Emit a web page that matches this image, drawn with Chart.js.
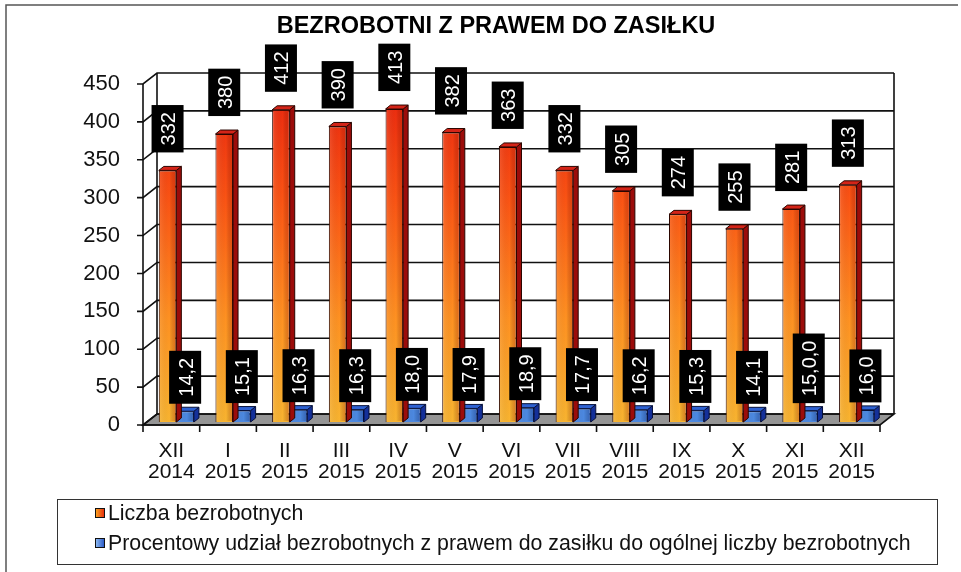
<!DOCTYPE html>
<html>
<head>
<meta charset="utf-8">
<script src="https://cdn.jsdelivr.net/npm/chart.js@4.4.0/dist/chart.umd.min.js"></script>
<style>
  body { margin: 0; background: #fff; font-family: "Liberation Sans", Arial, sans-serif; }
  #wrap { position: relative; width: 961px; height: 572px; }
  #legend { position: absolute; left: 57px; top: 499px; width: 879px; height: 64px; border: 1.5px solid #333; }
  .row { position: absolute; left: 37px; height: 24px; display: flex; align-items: center; font-size: 21.3px; color: #111; white-space: nowrap; }
  .mark { width: 8px; height: 8px; border: 1.5px solid #111; margin-right: 3px; }
</style>
</head>
<body>
<div id="wrap">
  <canvas id="chart" width="961" height="572"></canvas>
  <div id="legend"></div>
</div>
<script>
const months = [['XII', '2014'], ['I', '2015'], ['II', '2015'], ['III', '2015'], ['IV', '2015'], ['V', '2015'],
  ['VI', '2015'], ['VII', '2015'], ['VIII', '2015'], ['IX', '2015'], ['X', '2015'], ['XI', '2015'], ['XII', '2015']];
const liczba = [332, 380, 412, 390, 413, 382, 363, 332, 305, 274, 255, 281, 313];
const procent = [14.2, 15.1, 16.3, 16.3, 18.0, 17.9, 18.9, 17.7, 16.2, 15.3, 14.1, 15.0, 16.0];
// labels as printed on the chart (one of them really says 15,0,0)
const procentLabels = ['14,2', '15,1', '16,3', '16,3', '18,0', '17,9', '18,9', '17,7', '16,2', '15,3', '14,1', '15,0,0', '16,0'];
const seriesNames = ['Liczba bezrobotnych', 'Procentowy udział bezrobotnych z prawem do zasiłku do ogólnej liczby bezrobotnych'];

const FONT = '"Liberation Sans", Arial, sans-serif';
const DX = 14, DY = -11;      // depth of the 3d box
const SX = 5, SY = -3;        // bars sit a bit behind the front plane
const BX = 5, BY = -4;        // bar thickness

function orangeFill(c) {
  const a = c.chart.chartArea;
  if (!a) return '#f07020';
  const g = c.chart.ctx.createLinearGradient(0, a.top, 0, a.bottom);
  g.addColorStop(0, '#e8220e');
  g.addColorStop(0.35, '#fb5414');
  g.addColorStop(0.7, '#ff9222');
  g.addColorStop(1, '#f9b430');
  return g;
}

const frame3d = {
  id: 'frame3d',
  beforeDatasetsDraw(chart) {
    const ctx = chart.ctx, a = chart.chartArea, y = chart.scales.y;
    ctx.save();
    // floor
    ctx.fillStyle = '#959595';
    ctx.beginPath();
    ctx.moveTo(a.left, a.bottom); ctx.lineTo(a.right, a.bottom);
    ctx.lineTo(a.right + DX, a.bottom + DY); ctx.lineTo(a.left + DX, a.bottom + DY);
    ctx.closePath(); ctx.fill();
    ctx.strokeStyle = '#111'; ctx.lineWidth = 1.6;
    ctx.stroke();
    // back wall grid + side wall diagonals
    y.ticks.forEach(t => {
      const py = y.getPixelForValue(t.value);
      ctx.beginPath();
      ctx.moveTo(a.left - 6, py); ctx.lineTo(a.left, py);
      ctx.lineTo(a.left + DX, py + DY); ctx.lineTo(a.right + DX, py + DY);
      ctx.stroke();
    });
    ctx.beginPath();
    ctx.moveTo(a.left + DX, a.top + DY); ctx.lineTo(a.left + DX, a.bottom + DY);
    ctx.moveTo(a.right + DX, a.top + DY); ctx.lineTo(a.right + DX, a.bottom + DY);
    ctx.moveTo(a.left, a.top); ctx.lineTo(a.left, a.bottom); ctx.lineTo(a.right, a.bottom);
    ctx.stroke();
    // category tick marks on the front edge
    const x = chart.scales.x, step = (a.right - a.left) / months.length;
    ctx.beginPath();
    for (let i = 0; i <= months.length; i++) {
      const px = x.getPixelForValue(0) - step / 2 + i * step;
      ctx.moveTo(px, a.bottom); ctx.lineTo(px, a.bottom + 7);
    }
    ctx.stroke();
    ctx.restore();
    ctx.save();
    ctx.translate(SX, SY);
  },
  afterDatasetDraw(chart, args) {
    const ctx = chart.ctx;
    const side = args.index === 0 ? '#9c0c0a' : '#14309a';
    const top = args.index === 0 ? '#d42418' : '#2f62d2';
    const edge = args.index === 0 ? '#2a0600' : '#06103a';
    args.meta.data.forEach(el => {
      const p = el.getProps(['x', 'y', 'base', 'width'], true);
      const l = p.x - p.width / 2, r = p.x + p.width / 2;
      ctx.lineWidth = 1;
      ctx.strokeStyle = edge;
      ctx.fillStyle = side;
      ctx.beginPath();
      ctx.moveTo(r, p.y); ctx.lineTo(r + BX, p.y + BY); ctx.lineTo(r + BX, p.base + BY); ctx.lineTo(r, p.base);
      ctx.closePath(); ctx.fill(); ctx.stroke();
      ctx.fillStyle = top;
      ctx.beginPath();
      ctx.moveTo(l, p.y); ctx.lineTo(l + BX, p.y + BY); ctx.lineTo(r + BX, p.y + BY); ctx.lineTo(r, p.y);
      ctx.closePath(); ctx.fill(); ctx.stroke();
      // slight shade on the right part of the front face
      const g = ctx.createLinearGradient(l, 0, r, 0);
      g.addColorStop(0, 'rgba(255,255,255,0.12)');
      g.addColorStop(0.6, 'rgba(0,0,0,0)');
      g.addColorStop(1, args.index === 0 ? 'rgba(190,20,0,0.35)' : 'rgba(10,30,120,0.35)');
      ctx.fillStyle = g;
      ctx.fillRect(l + 1, p.y + 1, p.width - 2, p.base - p.y - 2);
    });
  },
  afterDatasetsDraw(chart) {
    const ctx = chart.ctx;
    ctx.restore();
    // value tags: black box, white text reading bottom to top
    const tag = (text, cx, bottom) => {
      ctx.save();
      ctx.font = '20px ' + FONT;
      const h = ctx.measureText(text).width + 14, w = 32;
      ctx.fillStyle = '#000';
      ctx.fillRect(cx - w / 2, bottom - h, w, h);
      ctx.translate(cx + 1, bottom - h / 2);
      ctx.rotate(-Math.PI / 2);
      ctx.fillStyle = '#fff';
      ctx.textAlign = 'center';
      ctx.textBaseline = 'middle';
      ctx.fillText(text, 0, 1);
      ctx.restore();
    };
    chart.getDatasetMeta(0).data.forEach((el, i) => tag(String(liczba[i]), el.x + SX, el.y + SY - 18));
    chart.getDatasetMeta(1).data.forEach((el, i) => tag(procentLabels[i], el.x + SX, el.y - 10.5));
  },
  afterDraw(chart) {
    const ctx = chart.ctx;
    ctx.save();
    ctx.strokeStyle = '#555'; ctx.lineWidth = 1.5;
    ctx.beginPath();
    ctx.moveTo(6, 572); ctx.lineTo(6, 5); ctx.lineTo(958, 5);
    ctx.stroke();
    ctx.fillStyle = '#000';
    ctx.font = 'bold 23.5px ' + FONT;
    ctx.textAlign = 'center';
    ctx.textBaseline = 'middle';
    ctx.fillText('BEZROBOTNI Z PRAWEM DO ZASIŁKU', 496, 27);
    ctx.restore();
  }
};

const chart = new Chart(document.getElementById('chart').getContext('2d'), {
  type: 'bar',
  data: {
    labels: months,
    datasets: [{
      label: seriesNames[0],
      data: liczba,
      backgroundColor: orangeFill,
      borderColor: '#2a0600',
      borderWidth: 1
    }, {
      label: seriesNames[1],
      data: procent,
      backgroundColor: '#4c88e0',
      borderColor: '#06103a',
      borderWidth: 1
    }]
  },
  options: {
    responsive: false,
    animation: false,
    layout: { padding: { top: 84, right: 81, bottom: 0, left: 0 } },
    datasets: { bar: { categoryPercentage: 0.62, barPercentage: 1 } },
    plugins: { legend: { display: false }, title: { display: false }, tooltip: { enabled: false } },
    scales: {
      x: {
        grid: { display: false, drawTicks: false },
        border: { display: false },
        ticks: { color: '#111', font: { size: 21, family: FONT, lineHeight: 1.0 }, padding: 16, maxRotation: 0, autoSkip: false },
        afterFit: s => { s.height = 147; }
      },
      y: {
        min: 0, max: 450,
        grid: { display: false, drawTicks: false },
        border: { display: false },
        ticks: { stepSize: 50, color: '#111', font: { size: 22, family: FONT }, padding: 23 },
        afterFit: s => { s.width = 143; }
      }
    }
  },
  plugins: [frame3d]
});

// legend
const legend = document.getElementById('legend');
const markFills = ['linear-gradient(90deg,#f8a020,#e8300c)', 'linear-gradient(90deg,#8cb8f0,#2c5cc8)'];
chart.data.datasets.forEach((ds, i) => {
  const row = document.createElement('div');
  row.className = 'row';
  row.style.top = (i === 0 ? 1 : 31) + 'px';
  const m = document.createElement('span');
  m.className = 'mark';
  m.style.background = markFills[i];
  row.appendChild(m);
  row.appendChild(document.createTextNode(ds.label));
  legend.appendChild(row);
});
</script>
</body>
</html>
